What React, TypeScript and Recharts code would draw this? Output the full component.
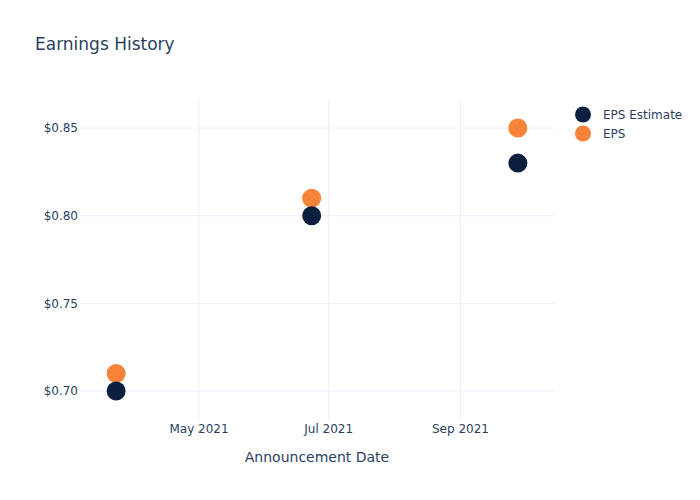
import React from 'react';
import {
  ScatterChart,
  Scatter,
  XAxis,
  YAxis,
  CartesianGrid,
  Label,
} from 'recharts';

// announcement dates (UTC) and values
const dates = [Date.UTC(2021, 2, 23), Date.UTC(2021, 5, 23), Date.UTC(2021, 8, 28)];
const epsEstimate = [0.7, 0.8, 0.83];
const eps = [0.71, 0.81, 0.85];

const xTicks = [Date.UTC(2021, 4, 1), Date.UTC(2021, 6, 1), Date.UTC(2021, 8, 1)];
const yTicks = [0.7, 0.75, 0.8, 0.85];
const monthNames = ['Jan', 'Feb', 'Mar', 'Apr', 'May', 'Jun', 'Jul', 'Aug', 'Sep', 'Oct', 'Nov', 'Dec'];

const NAVY = '#0b1f3f';
const ORANGE = '#f7833a';
const TEXT = '#2a3f5f';
const GRID = '#ebf0f8';
const FONT = '"DejaVu Sans", Verdana, sans-serif';

const estimateData = dates.map((d, i) => ({ date: d, value: epsEstimate[i] }));
const epsData = dates.map((d, i) => ({ date: d, value: eps[i] }));

const legendItems = [
  { name: 'EPS Estimate', color: NAVY },
  { name: 'EPS', color: ORANGE },
];

const Dot = (color: string) => (props: any) => (
  <circle cx={props.cx} cy={props.cy} r={9.5} fill={color} />
);

// plotly-style legend, placed by hand to the right of the plot
const LegendBox = () => (
  <div
    style={{
      position: 'absolute',
      left: 575,
      top: 105,
      fontFamily: FONT,
      fontSize: 12,
      color: TEXT,
    }}
  >
    {legendItems.map((item) => (
      <div key={item.name} style={{ display: 'flex', alignItems: 'center', height: 19 }}>
        <svg width={20} height={19}>
          <circle cx={8} cy={9.5} r={8} fill={item.color} />
        </svg>
        <span style={{ marginLeft: 8 }}>{item.name}</span>
      </div>
    ))}
  </div>
);

export default function App() {
  return (
    <div style={{ position: 'absolute', left: 0, top: 0, width: 700, height: 500, background: '#fff' }}>
      <div
        style={{
          position: 'absolute',
          left: 35,
          top: 34,
          fontFamily: FONT,
          fontSize: 17,
          color: TEXT,
        }}
      >
        Earnings History
      </div>
      <ScatterChart width={700} height={500} margin={{ top: 100, right: 146, bottom: 0, left: 0 }}>
        <CartesianGrid stroke={GRID} strokeWidth={1} verticalValues={xTicks} horizontalValues={yTicks} />
        <XAxis
          type="number"
          dataKey="date"
          domain={[Date.UTC(2021, 2, 6), Date.UTC(2021, 9, 15)]}
          ticks={xTicks}
          tickFormatter={(t) => {
            const d = new Date(t);
            return `${monthNames[d.getUTCMonth()]} ${d.getUTCFullYear()}`;
          }}
          height={80}
          axisLine={false}
          tickLine={false}
          tickSize={0}
          tickMargin={4}
          tick={{ fill: TEXT, fontSize: 12, fontFamily: FONT }}
          allowDataOverflow
        >
          <Label
            value="Announcement Date"
            position="insideBottom"
            offset={38}
            style={{ fill: TEXT, fontSize: 14, fontFamily: FONT }}
          />
        </XAxis>
        <YAxis
          type="number"
          dataKey="value"
          domain={[0.6835, 0.866]}
          ticks={yTicks}
          tickFormatter={(v) => `$${v.toFixed(2)}`}
          width={80}
          axisLine={false}
          tickLine={false}
          tickSize={0}
          tickMargin={2}
          tick={{ fill: TEXT, fontSize: 12, fontFamily: FONT }}
          allowDataOverflow
        />
        <Scatter
          name="EPS"
          data={epsData}
          fill={ORANGE}
          shape={Dot(ORANGE)}
          isAnimationActive={false}
        />
        <Scatter
          name="EPS Estimate"
          data={estimateData}
          fill={NAVY}
          shape={Dot(NAVY)}
          isAnimationActive={false}
        />
      </ScatterChart>
      <LegendBox />
    </div>
  );
}
